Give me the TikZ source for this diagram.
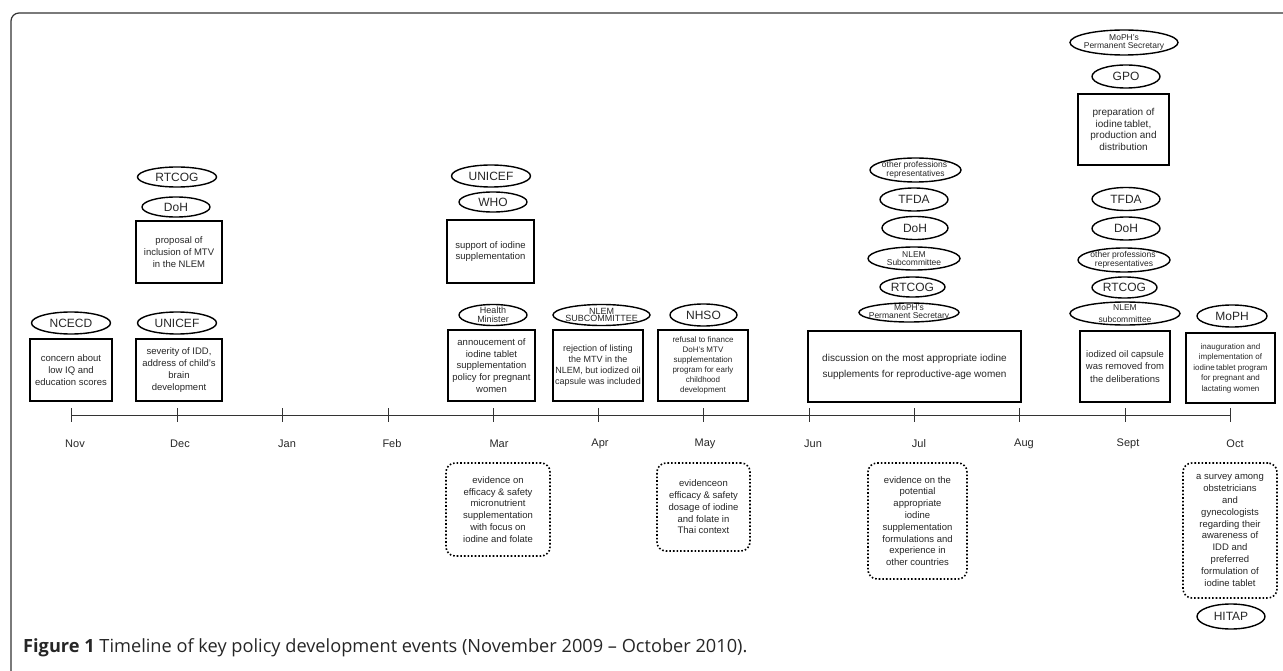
\documentclass[tikz,border=0pt]{standalone}
\usepackage{fontspec}
\setmainfont{Liberation Sans}
\newfontfamily\capfont{Open Sans}
\usetikzlibrary{shapes.geometric}

\begin{document}
\begin{tikzpicture}[x=10pt, y=-10pt,
		actor/.style={ellipse, draw=black, line width=1.4pt, inner sep=0pt, text=black!85, font=\fontsize{12}{13}\selectfont},
		actorsmall/.style={align=center, inner sep=0pt, text=black!85, font=\fontsize{8.5}{7.8}\selectfont},
		event/.style={rectangle, draw=black, line width=1.4pt, align=center, inner sep=0pt, text=black!85, font=\fontsize{9.5}{11.8}\selectfont},
		evidence/.style={rectangle, rounded corners=9pt, draw=black, dotted, line width=1.6pt, align=center, inner sep=0pt, text=black!85, font=\fontsize{9.5}{11.8}\selectfont},
		month/.style={text=black!85, font=\fontsize{11}{13}\selectfont},
		]
		\useasboundingbox (0,0) rectangle (128.3,67.1);
		\draw[line width=1.2pt, black!80, rounded corners=8pt] (1.1,67.1) -- (1.1,1.3) -- (128.3,1.3);
		
		%Timeline
		\coordinate (tnov) at (7.1,41.5);
		\coordinate (tdec) at (17.7,41.5);
		\coordinate (tjan) at (28.2,41.5);
		\coordinate (tfeb) at (38.8,41.5);
		\coordinate (tmar) at (49.3,41.5);
		\coordinate (tapr) at (59.8,41.5);
		\coordinate (tmay) at (70.3,41.5);
		\coordinate (tjun) at (80.9,41.5);
		\coordinate (tjul) at (91.4,41.5);
		\coordinate (taug) at (101.9,41.5);
		\coordinate (tsep) at (112.5,41.5);
		\coordinate (toct) at (123.0,41.5);
		\draw[line width=0.9pt, black!80] (tnov) -- (toct);
		\draw[line width=0.9pt, black!80] (tnov) ++(0,-0.7) -- ++(0,1.4);
		\draw[line width=0.9pt, black!80] (tdec) ++(0,-0.7) -- ++(0,1.4);
		\draw[line width=0.9pt, black!80] (tjan) ++(0,-0.7) -- ++(0,1.4);
		\draw[line width=0.9pt, black!80] (tfeb) ++(0,-0.7) -- ++(0,1.4);
		\draw[line width=0.9pt, black!80] (tmar) ++(0,-0.7) -- ++(0,1.4);
		\draw[line width=0.9pt, black!80] (tapr) ++(0,-0.7) -- ++(0,1.4);
		\draw[line width=0.9pt, black!80] (tmay) ++(0,-0.7) -- ++(0,1.4);
		\draw[line width=0.9pt, black!80] (tjun) ++(0,-0.7) -- ++(0,1.4);
		\draw[line width=0.9pt, black!80] (tjul) ++(0,-0.7) -- ++(0,1.4);
		\draw[line width=0.9pt, black!80] (taug) ++(0,-0.7) -- ++(0,1.4);
		\draw[line width=0.9pt, black!80] (tsep) ++(0,-0.7) -- ++(0,1.4);
		\draw[line width=0.9pt, black!80] (toct) ++(0,-0.7) -- ++(0,1.4);
		
		\node[month] (mnov) at (7.5,44.4) {Nov};
		\node[month] (mdec) at (18.0,44.4) {Dec};
		\node[month] (mjan) at (28.7,44.4) {Jan};
		\node[month] (mfeb) at (39.2,44.4) {Feb};
		\node[month] (mmar) at (49.9,44.4) {Mar};
		\node[month] (mapr) at (60.0,44.4) {Apr};
		\node[month] (mmay) at (70.5,44.4) {May};
		\node[month] (mjun) at (81.3,44.4) {Jun};
		\node[month] (mjul) at (91.9,44.4) {Jul};
		\node[month] (maug) at (102.4,44.4) {Aug};
		\node[month] (msep) at (112.8,44.4) {Sept};
		\node[month] (moct) at (123.5,44.4) {Oct};
		
		%Nov
		\node[actor, minimum width=79pt, minimum height=22pt] (ncecd) at (7.1,32.3) {NCECD};
		\node[event, minimum width=82pt, minimum height=62pt] (concern) at (7.1,37.0) {concern about\\low IQ and\\education scores};
		
		%Dec
		\node[actor, minimum width=79pt, minimum height=20pt] (rtcogA) at (17.7,17.7) {RTCOG};
		\node[actor, minimum width=68pt, minimum height=20pt] (dohA) at (17.6,20.7) {DoH};
		\node[event, minimum width=86pt, minimum height=62pt] (proposal) at (17.9,25.2) {proposal of\\inclusion of MTV\\in the NLEM};
		\node[actor, minimum width=79pt, minimum height=22pt] (unicefA) at (17.7,32.3) {UNICEF};
		\node[event, minimum width=86pt, minimum height=62pt] (severity) at (17.9,37.0) {severity of IDD,\\address of child's\\brain\\development};
		
		%Mar
		\node[actor, minimum width=79pt, minimum height=22pt] (unicefB) at (49.1,17.6) {UNICEF};
		\node[actor, minimum width=68pt, minimum height=20pt] (who) at (49.3,20.2) {WHO};
		\node[event, minimum width=87pt, minimum height=63pt] (support) at (49.05,25.15) {support of iodine\\supplementation};
		\node[actor, minimum width=68pt, minimum height=21pt, label={[actorsmall, font=\fontsize{9}{9}\selectfont]center:Health\\Minister}] (healthmin) at (49.3,31.5) {};
		\node[event, minimum width=87pt, minimum height=71pt] (annouce) at (49.15,36.55) {annoucement of\\iodine tablet\\supplementation\\policy for pregnant\\women};
		\node[evidence, minimum width=104pt, minimum height=93pt] (evmar) at (49.8,50.95) {evidence on\\efficacy \& safety\\micronutrient\\supplementation\\with focus on\\iodine and folate};
		
		%Apr
		\node[actor, minimum width=97pt, minimum height=21pt, label={[actorsmall, font=\fontsize{9}{7.5}\selectfont]center:NLEM\\SUBCOMMITTEE}] (nlemA) at (60.15,31.5) {};
		\node[event, minimum width=90pt, minimum height=71pt, font=\fontsize{9}{11}\selectfont] (rejection) at (59.8,36.55) {rejection of listing\\the MTV in the\\NLEM, but iodized oil\\capsule was included};
		
		%May
		\node[actor, minimum width=67pt, minimum height=22pt] (nhso) at (70.35,31.5) {NHSO};
		\node[event, minimum width=90pt, minimum height=71pt, font=\fontsize{8}{10}\selectfont] (refusal) at (70.3,36.55) {refusal to finance\\DoH's MTV\\supplementation\\program for early\\childhood\\development};
		\node[evidence, minimum width=93pt, minimum height=88pt] (evmay) at (70.35,50.7) {evidenceon\\efficacy \& safety\\dosage of iodine\\and folate in\\Thai context};
		
		%Jul
		\node[actor, minimum width=91pt, minimum height=24pt, label={[actorsmall]center:other professions'\\representatives}] (otherA) at (91.55,17.0) {};
		\node[actor, minimum width=68pt, minimum height=23pt] (tfdaA) at (91.4,19.95) {TFDA};
		\node[actor, minimum width=66pt, minimum height=23pt] (dohB) at (91.5,22.8) {DoH};
		\node[actor, minimum width=92pt, minimum height=23pt, label={[actorsmall]center:NLEM\\Subcommittee}] (nlemB) at (91.4,25.85) {};
		\node[actor, minimum width=65pt, minimum height=20pt] (rtcogB) at (91.25,28.7) {RTCOG};
		\node[actor, minimum width=100pt, minimum height=19pt, label={[actorsmall]center:MoPH's\\Permanent Secretary}] (psA) at (90.9,31.25) {};
		\node[event, minimum width=213pt, minimum height=71pt, font=\fontsize{10}{16}\selectfont] (discussion) at (91.45,36.65) {discussion on the most appropriate iodine\\supplements for reproductive-age women};
		\node[evidence, minimum width=99pt, minimum height=116pt] (evjul) at (91.75,52.1) {evidence on the\\potential\\appropriate\\iodine\\supplementation\\formulations and\\experience in\\other countries};
		
		%Sept
		\node[actor, minimum width=108pt, minimum height=25pt, label={[actorsmall]center:MoPH's\\Permanent Secretary}] (psB) at (112.4,4.25) {};
		\node[actor, minimum width=68pt, minimum height=23pt] (gpo) at (112.6,7.65) {GPO};
		\node[event, minimum width=91pt, minimum height=71pt, font=\fontsize{10}{11.8}\selectfont] (preparation) at (112.35,12.95) {preparation of\\iodine\,tablet,\\production and\\distribution};
		\node[actor, minimum width=68pt, minimum height=23pt] (tfdaB) at (112.6,19.9) {TFDA};
		\node[actor, minimum width=68pt, minimum height=23pt] (dohC) at (112.6,22.85) {DoH};
		\node[actor, minimum width=92pt, minimum height=24pt, label={[actorsmall]center:other professions'\\representatives}] (otherB) at (112.4,26.0) {};
		\node[actor, minimum width=65pt, minimum height=21pt] (rtcogC) at (112.45,28.75) {RTCOG};
		\node[actor, minimum width=110pt, minimum height=23pt, label={[actorsmall, font=\fontsize{8.5}{11.5}\selectfont]center:NLEM\\subcommittee}] (nlemC) at (112.5,31.35) {};
		\node[event, minimum width=90pt, minimum height=71pt, font=\fontsize{9.5}{12.3}\selectfont] (iodized) at (112.5,36.65) {iodized oil capsule\\was removed from\\the deliberations};
		
		%Oct
		\node[actor, minimum width=70pt, minimum height=22pt] (moph) at (123.2,31.6) {MoPH};
		\node[event, minimum width=89pt, minimum height=70pt, font=\fontsize{8}{10.5}\selectfont] (inaug) at (123.05,36.8) {inauguration and\\implementation of\\iodine\,tablet program\\for pregnant and\\lactating women};
		\node[evidence, minimum width=94pt, minimum height=135pt] (evoct) at (123.0,53.05) {a survey among\\obstetricians\\and\\gynecologists\\regarding their\\awareness of\\IDD and\\preferred\\formulation of\\iodine tablet};
		\node[actor, minimum width=68pt, minimum height=25pt] (hitap) at (123.1,61.65) {HITAP};
		
		\node[anchor=west, inner sep=0pt, text=black!85, font=\capfont\fontsize{18.2}{20}\selectfont] (caption) at (2.3,64.8) {\textbf{Figure 1} Timeline of key policy development events (November 2009 \textendash{} October 2010).};
	\end{tikzpicture}
\end{document}
